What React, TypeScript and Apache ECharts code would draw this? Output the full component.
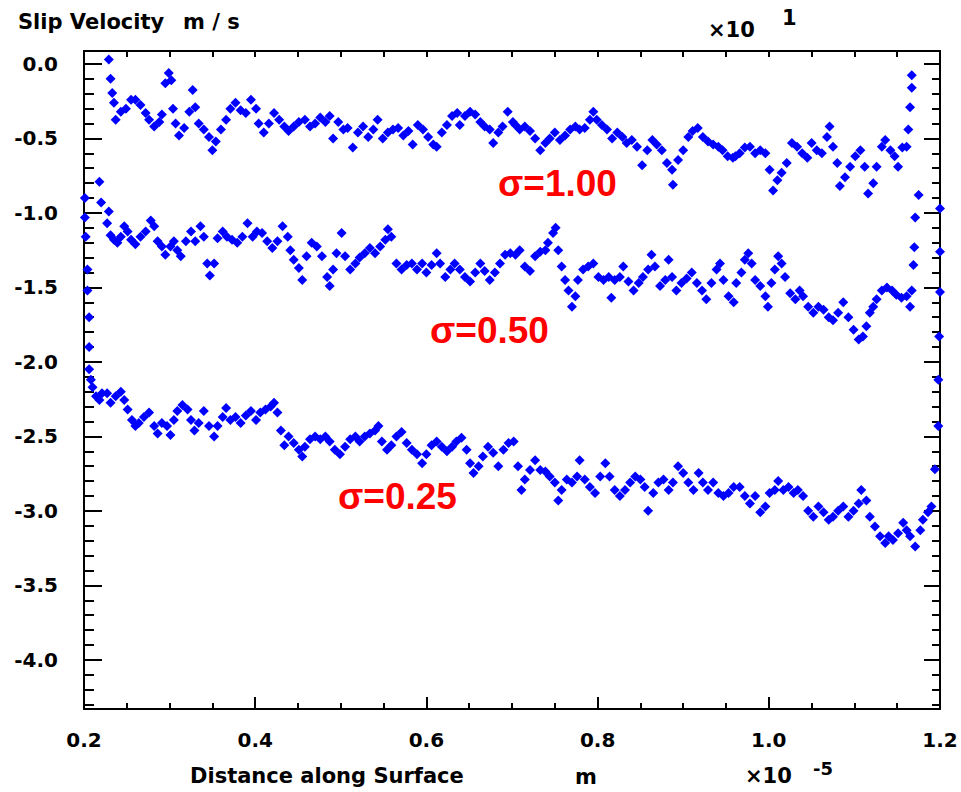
import React, { useEffect, useRef } from "react";
import * as echarts from "echarts";

// ---- data (x in units of 1e-5 m, y in units of 10 m/s) ----
const sigma100: [number, number][] = [
  [0.229, 0.03], [0.231, -0.10], [0.233, -0.195], [0.235, -0.26], [0.237, -0.375],
  [0.243, -0.32], [0.249, -0.30], [0.255, -0.24], [0.260, -0.24], [0.266, -0.275],
  [0.272, -0.33], [0.276, -0.375], [0.282, -0.42], [0.288, -0.39], [0.291, -0.34],
  [0.295, -0.13], [0.299, -0.06], [0.302, -0.11], [0.304, -0.30], [0.307, -0.40],
  [0.311, -0.48], [0.317, -0.43], [0.323, -0.32], [0.327, -0.175], [0.330, -0.29],
  [0.334, -0.40], [0.340, -0.44], [0.346, -0.49], [0.350, -0.58], [0.354, -0.52],
  [0.360, -0.44], [0.366, -0.375], [0.371, -0.30], [0.377, -0.26], [0.383, -0.31],
  [0.389, -0.33], [0.395, -0.24], [0.401, -0.30], [0.404, -0.40], [0.410, -0.46],
  [0.416, -0.40], [0.422, -0.33], [0.428, -0.375], [0.434, -0.42], [0.439, -0.45],
  [0.445, -0.42], [0.451, -0.39],
  [0.458, -0.375], [0.464, -0.42], [0.470, -0.40], [0.476, -0.36], [0.482, -0.39],
  [0.487, -0.35], [0.491, -0.50], [0.497, -0.39], [0.503, -0.44], [0.508, -0.43],
  [0.514, -0.56], [0.520, -0.46], [0.526, -0.42], [0.532, -0.49], [0.538, -0.44],
  [0.543, -0.375], [0.549, -0.50], [0.555, -0.46], [0.561, -0.44], [0.567, -0.43],
  [0.573, -0.48], [0.579, -0.45], [0.584, -0.54], [0.590, -0.41], [0.596, -0.44],
  [0.602, -0.49], [0.608, -0.54], [0.612, -0.555], [0.618, -0.46], [0.624, -0.41],
  [0.630, -0.35], [0.636, -0.33], [0.639, -0.41], [0.645, -0.35], [0.651, -0.32],
  [0.657, -0.34], [0.663, -0.39], [0.668, -0.42], [0.674, -0.44], [0.678, -0.53],
  [0.684, -0.46], [0.689, -0.42], [0.695, -0.32], [0.701, -0.39],
  [0.704, -0.41], [0.709, -0.44], [0.715, -0.42], [0.721, -0.45], [0.727, -0.50],
  [0.733, -0.58], [0.739, -0.53], [0.744, -0.50], [0.750, -0.46], [0.756, -0.51],
  [0.762, -0.48], [0.768, -0.44], [0.774, -0.42], [0.779, -0.44], [0.785, -0.43],
  [0.791, -0.375], [0.795, -0.32], [0.799, -0.375], [0.805, -0.41], [0.811, -0.44],
  [0.817, -0.50], [0.823, -0.46], [0.829, -0.49], [0.834, -0.53], [0.840, -0.51],
  [0.846, -0.555], [0.852, -0.68], [0.858, -0.58], [0.864, -0.51], [0.869, -0.54],
  [0.875, -0.58], [0.881, -0.665], [0.887, -0.71], [0.888, -0.81], [0.894, -0.645],
  [0.900, -0.58], [0.906, -0.49], [0.911, -0.45], [0.917, -0.43], [0.923, -0.49],
  [0.929, -0.52], [0.935, -0.54], [0.941, -0.555], [0.946, -0.58], [0.952, -0.62],
  [0.958, -0.63],
  [0.961, -0.62], [0.966, -0.60], [0.972, -0.56], [0.978, -0.555], [0.984, -0.60],
  [0.990, -0.58], [0.996, -0.60], [1.001, -0.71], [1.005, -0.85], [1.010, -0.78],
  [1.015, -0.73], [1.021, -0.665], [1.027, -0.53], [1.033, -0.555], [1.039, -0.60],
  [1.045, -0.63], [1.050, -0.53], [1.056, -0.58], [1.062, -0.60], [1.068, -0.49],
  [1.071, -0.42], [1.075, -0.555], [1.080, -0.665], [1.083, -0.82], [1.089, -0.76],
  [1.095, -0.69], [1.101, -0.62], [1.107, -0.58], [1.112, -0.69], [1.116, -0.87],
  [1.122, -0.80], [1.126, -0.69], [1.132, -0.555], [1.136, -0.51], [1.142, -0.58],
  [1.147, -0.62], [1.151, -0.69], [1.156, -0.56], [1.161, -0.555], [1.163, -0.44],
  [1.165, -0.29], [1.167, -0.16], [1.167, -0.075],
];

const sigma050: [number, number][] = [
  [0.218, -0.79], [0.220, -0.93], [0.227, -1.07], [0.229, -0.99],
  [0.231, -1.15], [0.235, -1.18], [0.239, -1.20], [0.243, -1.16], [0.247, -1.09],
  [0.251, -1.125], [0.255, -1.18], [0.260, -1.21], [0.266, -1.16], [0.272, -1.125],
  [0.278, -1.05], [0.282, -1.09], [0.286, -1.19], [0.291, -1.225], [0.295, -1.28],
  [0.301, -1.225], [0.305, -1.19], [0.309, -1.25], [0.313, -1.29], [0.319, -1.19],
  [0.325, -1.125], [0.330, -1.19], [0.336, -1.09], [0.340, -1.16], [0.344, -1.34],
  [0.347, -1.42], [0.352, -1.34], [0.356, -1.17], [0.362, -1.125], [0.367, -1.16],
  [0.373, -1.18], [0.379, -1.20], [0.385, -1.16], [0.391, -1.07], [0.397, -1.16],
  [0.402, -1.125], [0.408, -1.135], [0.414, -1.19], [0.420, -1.235], [0.426, -1.19],
  [0.432, -1.09], [0.438, -1.16], [0.441, -1.25], [0.445, -1.315], [0.451, -1.37],
  [0.455, -1.45],
  [0.460, -1.29], [0.466, -1.20], [0.472, -1.225], [0.478, -1.29], [0.484, -1.43],
  [0.487, -1.49], [0.491, -1.38], [0.495, -1.27], [0.501, -1.135], [0.505, -1.29],
  [0.511, -1.38], [0.517, -1.34], [0.522, -1.30], [0.528, -1.27], [0.534, -1.235],
  [0.540, -1.27], [0.546, -1.225], [0.552, -1.18], [0.555, -1.11], [0.559, -1.16],
  [0.565, -1.34], [0.571, -1.38], [0.577, -1.35], [0.583, -1.34], [0.589, -1.38],
  [0.595, -1.34], [0.600, -1.40], [0.606, -1.35], [0.612, -1.27], [0.616, -1.34],
  [0.622, -1.43], [0.628, -1.38], [0.633, -1.34], [0.639, -1.38], [0.645, -1.43],
  [0.651, -1.46], [0.657, -1.40], [0.663, -1.34], [0.668, -1.39], [0.674, -1.45],
  [0.680, -1.40], [0.686, -1.34], [0.692, -1.28], [0.698, -1.27],
  [0.704, -1.28], [0.709, -1.25], [0.715, -1.36], [0.721, -1.39], [0.727, -1.29],
  [0.733, -1.26], [0.739, -1.25], [0.742, -1.20], [0.748, -1.135], [0.751, -1.10],
  [0.754, -1.25], [0.758, -1.36], [0.762, -1.45], [0.766, -1.52], [0.770, -1.63],
  [0.774, -1.56], [0.777, -1.45], [0.783, -1.38], [0.789, -1.36], [0.795, -1.34],
  [0.801, -1.43], [0.807, -1.45], [0.813, -1.43], [0.816, -1.57], [0.820, -1.45],
  [0.826, -1.43], [0.830, -1.36], [0.836, -1.46], [0.842, -1.52], [0.848, -1.47],
  [0.853, -1.43], [0.859, -1.38], [0.863, -1.28], [0.867, -1.36], [0.873, -1.49],
  [0.879, -1.45], [0.883, -1.315], [0.887, -1.43], [0.892, -1.52], [0.898, -1.47],
  [0.904, -1.44], [0.910, -1.40], [0.916, -1.47], [0.922, -1.52], [0.927, -1.58],
  [0.933, -1.47], [0.939, -1.38], [0.943, -1.34], [0.947, -1.45], [0.953, -1.56],
  [0.959, -1.60],
  [0.962, -1.47], [0.968, -1.40], [0.972, -1.315], [0.976, -1.27], [0.980, -1.34],
  [0.984, -1.45], [0.990, -1.49], [0.996, -1.56], [0.999, -1.63], [1.003, -1.47],
  [1.007, -1.38], [1.011, -1.29], [1.015, -1.34], [1.019, -1.43], [1.025, -1.54],
  [1.031, -1.58], [1.036, -1.52], [1.040, -1.56], [1.046, -1.63], [1.052, -1.67],
  [1.058, -1.63], [1.064, -1.65], [1.070, -1.70], [1.075, -1.72], [1.081, -1.67],
  [1.087, -1.60], [1.093, -1.70], [1.099, -1.785], [1.105, -1.85], [1.110, -1.83],
  [1.114, -1.76], [1.118, -1.67], [1.122, -1.63], [1.126, -1.58], [1.132, -1.52],
  [1.138, -1.50], [1.144, -1.52], [1.149, -1.55], [1.155, -1.57], [1.161, -1.56],
  [1.165, -1.63], [1.167, -1.52], [1.169, -1.35], [1.170, -1.23], [1.171, -1.03],
  [1.175, -0.88],
];

const sigma025: [number, number][] = [
  [0.201, -0.90], [0.201, -1.03], [0.202, -1.16], [0.204, -1.38], [0.204, -1.52],
  [0.206, -1.70], [0.206, -1.90], [0.206, -2.05], [0.208, -2.12],
  [0.210, -2.17], [0.214, -2.23], [0.218, -2.255], [0.221, -2.21], [0.227, -2.21],
  [0.231, -2.275], [0.237, -2.23], [0.243, -2.20], [0.247, -2.255], [0.251, -2.32],
  [0.256, -2.39], [0.260, -2.43], [0.264, -2.41], [0.270, -2.37], [0.276, -2.34],
  [0.282, -2.43], [0.286, -2.48], [0.291, -2.41], [0.297, -2.43], [0.301, -2.49],
  [0.305, -2.39], [0.309, -2.33], [0.315, -2.29], [0.321, -2.32], [0.325, -2.39],
  [0.329, -2.46], [0.334, -2.41], [0.340, -2.33], [0.346, -2.43], [0.352, -2.50],
  [0.356, -2.43], [0.362, -2.37], [0.366, -2.31], [0.371, -2.39], [0.377, -2.37],
  [0.383, -2.41], [0.389, -2.36], [0.395, -2.33], [0.401, -2.39], [0.406, -2.34],
  [0.412, -2.32], [0.418, -2.30], [0.422, -2.275], [0.426, -2.34], [0.430, -2.46],
  [0.434, -2.56], [0.439, -2.50], [0.445, -2.545], [0.451, -2.59], [0.455, -2.635],
  [0.458, -2.57], [0.464, -2.52], [0.470, -2.50], [0.476, -2.52], [0.482, -2.50],
  [0.487, -2.535], [0.493, -2.59], [0.499, -2.62], [0.505, -2.57], [0.511, -2.52],
  [0.517, -2.50], [0.522, -2.535], [0.528, -2.50], [0.534, -2.48], [0.540, -2.46],
  [0.544, -2.43], [0.548, -2.535], [0.554, -2.59], [0.559, -2.56], [0.565, -2.50],
  [0.571, -2.47], [0.577, -2.545], [0.583, -2.59], [0.589, -2.62], [0.595, -2.68],
  [0.600, -2.62], [0.606, -2.56], [0.612, -2.535], [0.618, -2.57], [0.624, -2.60],
  [0.630, -2.57], [0.635, -2.535], [0.641, -2.51], [0.647, -2.59], [0.651, -2.68],
  [0.655, -2.745], [0.661, -2.70], [0.666, -2.635], [0.672, -2.57], [0.678, -2.61],
  [0.684, -2.70], [0.690, -2.59], [0.696, -2.545], [0.702, -2.535],
  [0.707, -2.70], [0.711, -2.86], [0.715, -2.79], [0.721, -2.725], [0.727, -2.66],
  [0.733, -2.725], [0.739, -2.735], [0.744, -2.77], [0.750, -2.81], [0.754, -2.93],
  [0.758, -2.86], [0.764, -2.79], [0.770, -2.81], [0.776, -2.77], [0.779, -2.66],
  [0.785, -2.79], [0.791, -2.84], [0.797, -2.88], [0.803, -2.77], [0.809, -2.68],
  [0.814, -2.77], [0.820, -2.86], [0.826, -2.90], [0.832, -2.86], [0.838, -2.81],
  [0.844, -2.77], [0.850, -2.79], [0.855, -2.84], [0.859, -3.00], [0.865, -2.88],
  [0.871, -2.81], [0.877, -2.79], [0.883, -2.86], [0.888, -2.81], [0.894, -2.70],
  [0.900, -2.745], [0.906, -2.81], [0.912, -2.86], [0.918, -2.745], [0.923, -2.81],
  [0.929, -2.86], [0.935, -2.81], [0.941, -2.88], [0.947, -2.90], [0.953, -2.88],
  [0.959, -2.84], [0.966, -2.84], [0.972, -2.90], [0.978, -2.95], [0.984, -2.90],
  [0.990, -3.01], [0.996, -2.97], [1.001, -2.88], [1.007, -2.86], [1.011, -2.80],
  [1.017, -2.86], [1.023, -2.84], [1.029, -2.88], [1.034, -2.86], [1.040, -2.90],
  [1.046, -3.00], [1.052, -3.04], [1.058, -2.97], [1.064, -3.01], [1.070, -3.06],
  [1.075, -3.04], [1.081, -3.00], [1.087, -2.97], [1.093, -3.04], [1.099, -3.00],
  [1.105, -2.95], [1.108, -2.86], [1.114, -2.93], [1.118, -3.04], [1.124, -3.105],
  [1.130, -3.17], [1.136, -3.215], [1.140, -3.17], [1.145, -3.195], [1.151, -3.15],
  [1.157, -3.08], [1.161, -3.13], [1.165, -3.17], [1.171, -3.24], [1.177, -3.13],
  [1.180, -3.06], [1.186, -3.01], [1.190, -2.97], [1.194, -2.72], [1.198, -2.43],
  [1.198, -2.12], [1.199, -1.83], [1.200, -1.53], [1.200, -1.26], [1.200, -0.97],
];

const xRange = [0.2, 1.2];
const yRange = [-4.33, 0.087];
const seriesLabels = ["σ=1.00", "σ=0.50", "σ=0.25"];
const yTitle = ["Slip Velocity", "m / s"];
const xTitle = ["Distance along Surface", "m"];
const yExponent = ["×10", "1"];
const xExponent = ["×10", "-5"];

const BLACK = "#000000";
const BLUE = "#0000ff";
const RED = "#ff0000";
const FONT = '"DejaVu Sans", sans-serif';
const RED_FONT = '"Liberation Sans", Arial, sans-serif';

const lineStyle = { color: BLACK, width: 2 };

function fmt(v: number) {
  const r = Math.round(v * 10) / 10;
  if (Math.abs(r * 2 - Math.round(r * 2)) > 1e-6 || Math.abs(v - r) > 1e-6) return "";
  return r.toFixed(1);
}

export default function App() {
  const ref = useRef<HTMLDivElement>(null);
  useEffect(() => {
    if (!ref.current) return;
    const chart = echarts.init(ref.current, undefined, { renderer: "svg" });
    const yBase = {
      type: "value" as const,
      min: yRange[0],
      max: yRange[1],
      splitLine: { show: false },
      minorSplitLine: { show: false },
    };
    const option: any = {
      animation: false,
      backgroundColor: "#ffffff",
      grid: { left: 84, right: 21, top: 51, bottom: 83, containLabel: false },
      xAxis: [
        {
          type: "value",
          min: xRange[0],
          max: xRange[1],
          interval: 0.2,
          position: "bottom",
          axisLine: { show: true, onZero: false, lineStyle },
          axisTick: { show: true, inside: true, length: 12, lineStyle },
          minorTick: { show: true, splitNumber: 4, length: 6, lineStyle },
          axisLabel: {
            show: true,
            margin: 21,
            color: BLACK,
            fontFamily: FONT,
            fontWeight: "bold",
            fontSize: 20,
            formatter: (v: number) => v.toFixed(1),
          },
          splitLine: { show: false },
          minorSplitLine: { show: false },
        },
        {
          type: "value",
          min: xRange[0],
          max: xRange[1],
          interval: 0.05,
          position: "top",
          axisLine: { show: true, onZero: false, lineStyle },
          axisTick: { show: true, inside: true, length: 6, lineStyle },
          axisLabel: { show: false },
          splitLine: { show: false },
        },
      ],
      yAxis: [
        {
          ...yBase,
          position: "left",
          minInterval: 0.5,
          maxInterval: 0.5,
          splitNumber: 9,
          axisLine: { show: true, onZero: false, lineStyle },
          axisTick: { show: true, inside: true, length: 18, lineStyle },
          axisLabel: {
            show: true,
            margin: 26,
            color: BLACK,
            fontFamily: FONT,
            fontWeight: "bold",
            fontSize: 20,
            showMinLabel: false,
            showMaxLabel: false,
            formatter: fmt,
          },
        },
        {
          ...yBase,
          position: "left",
          minInterval: 0.1,
          maxInterval: 0.1,
          splitNumber: 44,
          axisLine: { show: false, onZero: false },
          axisTick: { show: true, inside: true, length: 10, lineStyle },
          axisLabel: { show: false },
        },
        {
          ...yBase,
          position: "right",
          minInterval: 0.5,
          maxInterval: 0.5,
          splitNumber: 9,
          axisLine: { show: true, onZero: false, lineStyle },
          axisTick: { show: true, inside: true, length: 16, lineStyle },
          axisLabel: { show: false },
        },
        {
          ...yBase,
          position: "right",
          minInterval: 0.1,
          maxInterval: 0.1,
          splitNumber: 44,
          axisLine: { show: false, onZero: false },
          axisTick: { show: true, inside: true, length: 8, lineStyle },
          axisLabel: { show: false },
        },
      ],
      series: [sigma100, sigma050, sigma025].map((d, i) => ({
        name: seriesLabels[i],
        type: "scatter",
        xAxisIndex: 0,
        yAxisIndex: 0,
        data: d,
        symbol: "diamond",
        symbolSize: 10,
        itemStyle: { color: BLUE, opacity: 1 },
        silent: true,
      })),
      graphic: {
        elements: [
          { type: "text", x: 18, y: 22, style: { text: yTitle[0], fill: BLACK, font: `bold 21px ${FONT}`, align: "left", verticalAlign: "middle" } },
          { type: "text", x: 183, y: 22, style: { text: yTitle[1], fill: BLACK, font: `bold 21px ${FONT}`, align: "left", verticalAlign: "middle" } },
          { type: "text", x: 708, y: 30, style: { text: yExponent[0], fill: BLACK, font: `bold 21px ${FONT}`, align: "left", verticalAlign: "middle" } },
          { type: "text", x: 782, y: 18, style: { text: yExponent[1], fill: BLACK, font: `bold 21px ${FONT}`, align: "left", verticalAlign: "middle" } },
          { type: "text", x: 190, y: 776, style: { text: xTitle[0], fill: BLACK, font: `bold 21px ${FONT}`, align: "left", verticalAlign: "middle" } },
          { type: "text", x: 575, y: 777, style: { text: xTitle[1], fill: BLACK, font: `bold 21px ${FONT}`, align: "left", verticalAlign: "middle" } },
          { type: "text", x: 745, y: 776, style: { text: xExponent[0], fill: BLACK, font: `bold 21px ${FONT}`, align: "left", verticalAlign: "middle" } },
          { type: "text", x: 813, y: 768, style: { text: xExponent[1], fill: BLACK, font: `bold 18px ${FONT}`, align: "left", verticalAlign: "middle" } },
          { type: "text", x: 498, y: 183, style: { text: seriesLabels[0], fill: RED, font: `bold 37px ${RED_FONT}`, align: "left", verticalAlign: "middle" } },
          { type: "text", x: 430, y: 330, style: { text: seriesLabels[1], fill: RED, font: `bold 37px ${RED_FONT}`, align: "left", verticalAlign: "middle" } },
          { type: "text", x: 338, y: 496, style: { text: seriesLabels[2], fill: RED, font: `bold 37px ${RED_FONT}`, align: "left", verticalAlign: "middle" } },
        ],
      },
    };
    chart.setOption(option);
    return () => chart.dispose();
  }, []);
  return (
    <div
      ref={ref}
      style={{ position: "fixed", left: 0, top: 0, width: 961, height: 792, background: "#fff" }}
    />
  );
}
